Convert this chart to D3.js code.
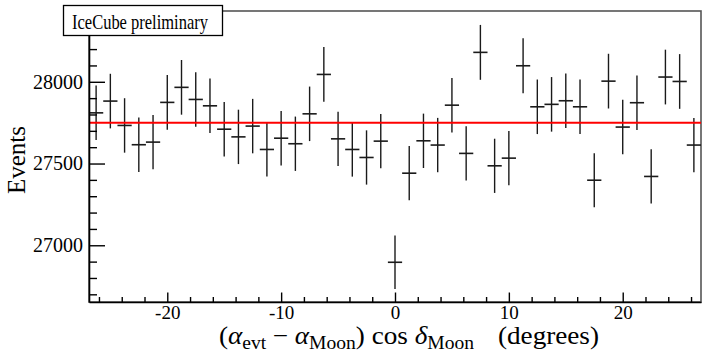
<!DOCTYPE html>
<html>
<head>
<meta charset="utf-8">
<script src="https://cdn.jsdelivr.net/npm/d3@7"></script>
<style>
  body { margin: 0; background: #fff; }
  svg { display: block; font-family: "Liberation Serif", "Times New Roman", serif; }
</style>
</head>
<body>
<svg id="chart"></svg>
<script>
// bin centres (degrees) and event counts per bin
var offsets = [-26.25, -25, -23.75, -22.5, -21.25, -20, -18.75, -17.5, -16.25, -15,
  -13.75, -12.5, -11.25, -10, -8.75, -7.5, -6.25, -5, -3.75, -2.5, -1.25, 0,
  1.25, 2.5, 3.75, 5, 6.25, 7.5, 8.75, 10, 11.25, 12.5, 13.75, 15, 16.25, 17.5,
  18.75, 20, 21.25, 22.5, 23.75, 25, 26.25];
var events = [27810, 27882, 27733, 27615, 27631, 27874, 27966, 27892, 27853, 27710,
  27663, 27729, 27586, 27655, 27621, 27804, 28045, 27651, 27586, 27537, 27637, 26896,
  27441, 27639, 27613, 27857, 27562, 28180, 27486, 27533, 28098, 27847, 27862, 27884,
  27847, 27398, 28004, 27723, 27872, 27421, 28029, 28002, 27613];
var fitLevel = 27750;
var binWidth = 1.25;

var xTicks = [-20, -10, 0, 10, 20];
var yTicks = [27000, 27500, 28000];

var width = 714, height = 355;
var pLeft = 89, pRight = 701, pTop = 11, pBottom = 302;

var svg = d3.select("#chart")
  .attr("width", width)
  .attr("height", height);

var x = d3.scaleLinear().domain([-26.875, 26.875]).range([pLeft, pRight]);
var y = d3.scaleLinear().domain([26653, 28433]).range([pBottom, pTop]);

// frame
svg.append("rect")
  .attr("x", pLeft).attr("y", pTop)
  .attr("width", pRight - pLeft).attr("height", pBottom - pTop)
  .attr("fill", "none")
  .attr("stroke", "#555")
  .attr("stroke-width", 1.6);

// error bars
var pts = svg.append("g").selectAll("g")
  .data(events)
  .enter()
  .append("g");

pts.append("line")
  .attr("x1", function(d, i) { return x(offsets[i]); })
  .attr("x2", function(d, i) { return x(offsets[i]); })
  .attr("y1", function(d) { return y(d - Math.sqrt(d)); })
  .attr("y2", function(d) { return y(d + Math.sqrt(d)); })
  .attr("stroke", "#1a1a1a")
  .attr("stroke-width", 1.4);

pts.append("line")
  .attr("x1", function(d, i) { return x(offsets[i] - binWidth / 2); })
  .attr("x2", function(d, i) { return x(offsets[i] + binWidth / 2); })
  .attr("y1", function(d) { return y(d); })
  .attr("y2", function(d) { return y(d); })
  .attr("stroke", "#1a1a1a")
  .attr("stroke-width", 1.6);

// flat fit line
svg.append("line")
  .attr("x1", pLeft).attr("x2", pRight)
  .attr("y1", y(fitLevel)).attr("y2", y(fitLevel))
  .attr("stroke", "#ff0000")
  .attr("stroke-width", 2);

// y axis
var yAxis = svg.append("g")
  .attr("transform", "translate(" + pLeft + ",0)")
  .call(d3.axisLeft(y).tickValues(yTicks).tickSize(-16).tickSizeOuter(0).tickPadding(6)
    .tickFormat(function(d) { return String(d); }));
svg.append("g")
  .attr("transform", "translate(" + pLeft + ",0)")
  .call(d3.axisLeft(y).tickValues(d3.range(26700, 28500, 100).filter(function(v) { return v % 500 !== 0; }))
    .tickSize(-8).tickSizeOuter(0).tickFormat(""))
  .select(".domain").remove();

// x axis
var xAxis = svg.append("g")
  .attr("transform", "translate(0," + pBottom + ")")
  .call(d3.axisBottom(x).tickValues(xTicks).tickSize(-9.5).tickSizeOuter(0).tickPadding(4)
    .tickFormat(function(d) { return String(d); }));
svg.append("g")
  .attr("transform", "translate(0," + pBottom + ")")
  .call(d3.axisBottom(x).tickValues(d3.range(-26, 27, 2).filter(function(v) { return v % 10 !== 0; }))
    .tickSize(-5).tickSizeOuter(0).tickFormat(""))
  .select(".domain").remove();

svg.selectAll(".domain").attr("stroke", "#000").attr("stroke-width", 1.6);
svg.selectAll(".tick line").attr("stroke", "#000").attr("stroke-width", 1.4);
yAxis.selectAll("text").attr("font-size", 20).attr("font-family", "Liberation Serif").attr("fill", "#000");
xAxis.selectAll("text").attr("font-size", 19).attr("font-family", "Liberation Serif").attr("fill", "#000");

// axis titles
svg.append("text")
  .attr("transform", "translate(25,160) rotate(-90)")
  .attr("text-anchor", "middle")
  .attr("font-size", 25)
  .text("Events");

var xt = svg.append("text")
  .attr("x", 219)
  .attr("y", 344)
  .attr("font-size", 25)
  .attr("textLength", 380)
  .attr("lengthAdjust", "spacingAndGlyphs");
xt.append("tspan").text("(");
xt.append("tspan").attr("font-style", "italic").text("α");
xt.append("tspan").attr("font-size", 18).attr("dy", 5).text("evt");
xt.append("tspan").attr("dy", -5).attr("dx", 6).text("− ");
xt.append("tspan").attr("font-style", "italic").text("α");
xt.append("tspan").attr("font-size", 18).attr("dy", 5).text("Moon");
xt.append("tspan").attr("dy", -5).text(") cos ");
xt.append("tspan").attr("font-style", "italic").text("δ");
xt.append("tspan").attr("font-size", 18).attr("dy", 5).text("Moon");
xt.append("tspan").attr("dy", -5).attr("dx", 22).text("(degrees)");

// label box
svg.append("rect")
  .attr("x", 63.5).attr("y", 5.5)
  .attr("width", 159).attr("height", 30)
  .attr("fill", "#fff")
  .attr("stroke", "#000")
  .attr("stroke-width", 1.3);
svg.append("text")
  .attr("x", 72)
  .attr("y", 28.5)
  .attr("font-size", 21)
  .attr("textLength", 136)
  .attr("lengthAdjust", "spacingAndGlyphs")
  .text("IceCube preliminary");
</script>
</body>
</html>
